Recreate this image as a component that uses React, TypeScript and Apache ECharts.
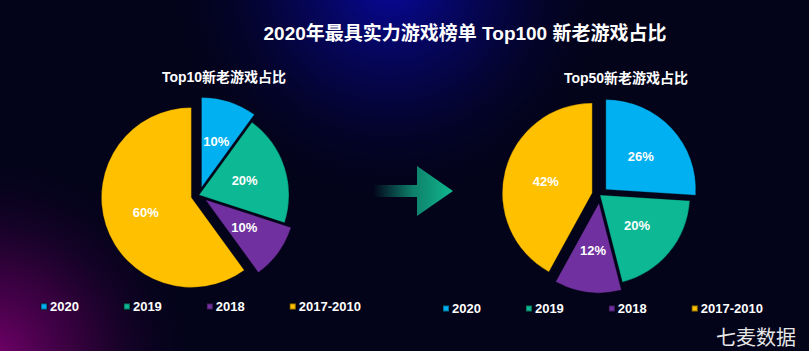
import React, { useEffect, useRef } from "react";
import * as echarts from "echarts";

const categories = ["2020", "2019", "2018", "2017-2010"];
const top10Values = [10, 20, 10, 60];
const top50Values = [26, 20, 12, 42];
const top10Exploded = [true, false, true, true];
const top50Exploded = [true, false, true, true];
const colors = ["#00B0F0", "#0DB894", "#7030A0", "#FFC000"];

const mainTitle = "2020年最具实力游戏榜单 Top100 新老游戏占比";
const leftTitle = "Top10新老游戏占比";
const rightTitle = "Top50新老游戏占比";
const watermark = "七麦数据";

const FONT = "'Liberation Sans', Arial, 'Noto Sans CJK SC', sans-serif";

function buildData(values: number[], exploded: boolean[]) {
  return categories.map((name, i) => ({
    name,
    value: values[i],
    selected: exploded[i],
    itemStyle: { color: colors[i] },
  }));
}

function pieSeries(values: number[], exploded: boolean[], center: number[]) {
  return {
    type: "pie",
    center,
    radius: 90,
    startAngle: 90,
    clockwise: true,
    selectedMode: "multiple",
    selectedOffset: 8,
    emphasis: { disabled: true },
    itemStyle: { borderColor: "rgba(0,0,0,0.35)", borderWidth: 0.8 },
    label: {
      show: true,
      position: "inside",
      formatter: "{c}%",
      color: "#ffffff",
      fontSize: 13,
      fontWeight: "bold",
      fontFamily: FONT,
    },
    labelLine: { show: false },
    data: buildData(values, exploded),
  };
}

function legend(left: number, top: number) {
  return {
    data: categories,
    left,
    top,
    padding: 0,
    itemWidth: 6,
    itemHeight: 6,
    itemGap: 44,
    icon: "rect",
    selectedMode: false,
    textStyle: {
      color: "#ffffff",
      fontSize: 13,
      fontWeight: "bold",
      fontFamily: FONT,
      padding: [0, 0, 0, -2],
    },
  };
}

export default function App() {
  const ref = useRef<HTMLDivElement>(null);
  useEffect(() => {
    if (!ref.current) return;
    const chart = echarts.init(ref.current, undefined, { renderer: "svg" });
    chart.setOption({
      animation: false,
      backgroundColor: "#03031a",
      graphic: [
        {
          type: "rect",
          silent: true,
          z: -10,
          shape: { x: 0, y: 0, width: 809, height: 351 },
          style: {
            fill: {
              type: "radial",
              x: 390,
              y: -20,
              r: 230,
              global: true,
              colorStops: [
                { offset: 0, color: "rgba(8,8,160,1)" },
                { offset: 0.5, color: "rgba(6,6,100,0.55)" },
                { offset: 1, color: "rgba(3,3,26,0)" },
              ],
            },
          },
        },
        {
          type: "rect",
          silent: true,
          z: -10,
          shape: { x: 0, y: 0, width: 809, height: 351 },
          style: {
            fill: {
              type: "radial",
              x: -10,
              y: 360,
              r: 210,
              global: true,
              colorStops: [
                { offset: 0, color: "rgba(120,0,110,1)" },
                { offset: 0.45, color: "rgba(80,0,80,0.6)" },
                { offset: 1, color: "rgba(3,3,26,0)" },
              ],
            },
          },
        },
        {
          type: "polygon",
          silent: true,
          shape: {
            points: [
              [373, 185],
              [417, 185],
              [417, 166],
              [453, 191],
              [417, 216],
              [417, 197],
              [373, 197],
            ],
          },
          style: {
            fill: {
              type: "linear",
              x: 373,
              y: 0,
              x2: 453,
              y2: 0,
              global: true,
              colorStops: [
                { offset: 0, color: "rgba(16,150,120,0)" },
                { offset: 0.5, color: "rgba(16,150,120,0.85)" },
                { offset: 1, color: "rgba(16,185,145,1)" },
              ],
            },
          },
        },
        {
          type: "text",
          x: 716,
          y: 325,
          silent: true,
          style: {
            text: watermark,
            fill: "#e6e6e6",
            fontSize: 20,
            lineHeight: 22,
            fontFamily: "'Noto Sans CJK SC', sans-serif",
          },
        },
      ],
      title: [
        {
          text: mainTitle,
          left: 460,
          top: 19,
          textAlign: "center",
          textStyle: {
            color: "#ffffff",
            fontSize: 19,
            fontWeight: "bold",
            fontFamily: FONT,
          },
        },
        {
          text: leftTitle,
          left: 219,
          top: 65,
          textAlign: "center",
          textStyle: {
            color: "#ffffff",
            fontSize: 14,
            fontWeight: "bold",
            fontFamily: FONT,
          },
        },
        {
          text: rightTitle,
          left: 621,
          top: 66,
          textAlign: "center",
          textStyle: {
            color: "#ffffff",
            fontSize: 14,
            fontWeight: "bold",
            fontFamily: FONT,
          },
        },
      ],
      legend: [legend(40, 300), legend(442, 302)],
      series: [
        pieSeries(top10Values, top10Exploded, [199, 195]),
        pieSeries(top50Values, top50Exploded, [600, 195]),
      ],
    });
    return () => chart.dispose();
  }, []);
  return (
    <div
      ref={ref}
      style={{ position: "fixed", left: 0, top: 0, width: 809, height: 351 }}
    />
  );
}
